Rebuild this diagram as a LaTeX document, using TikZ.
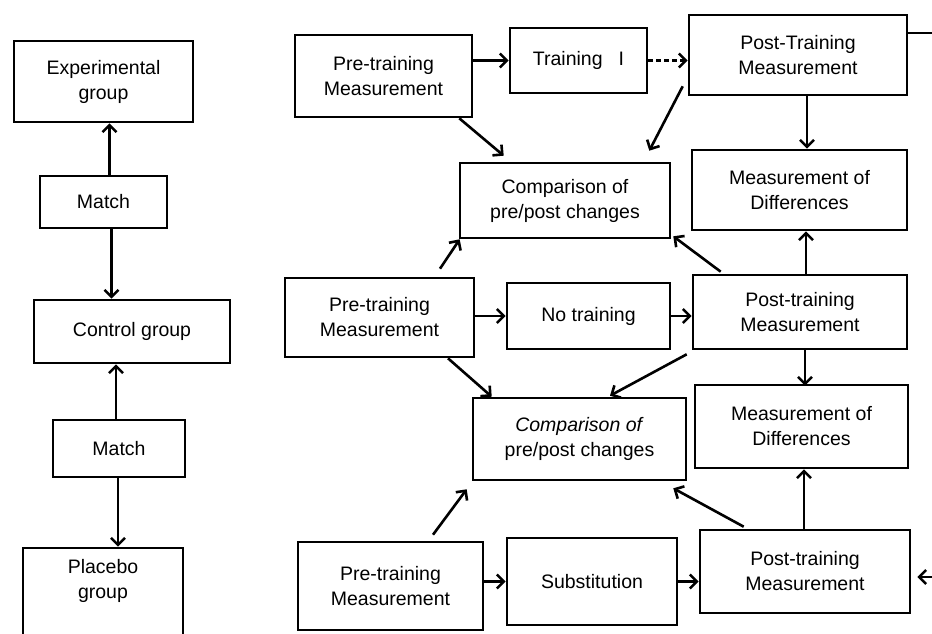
\documentclass[tikz,border=0pt]{standalone}
\usepackage{fontspec}
\setmainfont{Liberation Sans}
\usetikzlibrary{arrows.meta}
\begin{document}
\begin{tikzpicture}[x=1pt,y=-1pt,
  box/.style={draw, line width=2.6pt, align=center, inner sep=0pt, font=\fontsize{19.5}{25}\selectfont},
  sz/.style 2 args={minimum width=#1pt, minimum height=#2pt},
  arr/.style={line width=2.6pt, -{Straight Barb[length=7pt,width=14pt,line width=2.6pt]}},
  ln/.style={line width=2.6pt}]
\useasboundingbox (0,0) rectangle (932,634);
\clip (0,0) rectangle (932,634);
% left column
\node[box, sz={179}{81}] (exp) at (103.5,81.5) {Experimental\\group};
\node[box, sz={127}{52}] (m1) at (103.5,202) {Match};
\node[box, sz={196}{63}] (ctrl) at (132,331.5) {Control group};
\node[box, sz={132}{57}] (m2) at (119,448.5) {Match};
\node[box, sz={160}{92}, text depth=30pt] (plac) at (103,594) {Placebo\\group};
% right part row 1
\node[box, sz={177}{82}] (preA) at (383.5,76) {Pre-training\\Measurement};
\node[box, sz={137}{65}] (trA) at (578.5,60.5) {Training\hspace{16pt}I};
\node[box, sz={218}{80}] (postA) at (798,55) {Post-Training\\Measurement};
\node[box, sz={215}{80}] (diffA) at (799.5,190) {Measurement of\\Differences};
\node[box, sz={210}{75}] (compA) at (565,200.5) {Comparison of\\pre/post changes};
% row 2
\node[box, sz={189}{79}] (preB) at (379.5,317.5) {Pre-training\\Measurement};
\node[box, sz={163}{66}] (noT) at (588.5,316) {No training};
\node[box, sz={214}{74}] (postB) at (800,312) {Post-training\\Measurement};
\node[box, sz={213}{83}] (diffB) at (801.5,426.5) {Measurement of\\Differences};
\node[box, sz={213}{82}] (compB) at (579.5,439) {\textit{Comparison of}\\pre/post changes};
% row 3
\node[box, sz={185}{88}] (preC) at (390.5,586) {Pre-training\\Measurement};
\node[box, sz={170}{87}] (sub) at (592,581.5) {Substitution};
\node[box, sz={210}{83}] (postC) at (805,571.5) {Post-training\\Measurement};
\coordinate (offA) at (936,33);
\coordinate (offC) at (936,577);
% left connectors
\draw[arr] ([xshift=6pt]m1.north) -- ([xshift=6pt]m1.north |- exp.south);
\draw[arr] ([xshift=8pt]m1.south) -- ([xshift=8pt]m1.south |- ctrl.north);
\draw[arr] ([xshift=-3pt]m2.north) -- ([xshift=-3pt]m2.north |- ctrl.south);
\draw[arr] ([xshift=-1pt]m2.south) -- ([xshift=-1pt]m2.south |- plac.north);
% row 1 connectors
\draw[arr] (preA.east |- trA.center) -- (trA.west);
\draw[arr, dash pattern=on 5pt off 3pt] (trA.east) -- (trA.east -| postA.west);
\draw[ln] (offA -| postA.east) -- (offA);
\draw[arr] ([xshift=9pt]postA.south) -- ([xshift=9pt]postA.south |- diffA.north);
\draw[arr] ([xshift=-14pt]preA.south east) -- ([xshift=45pt,yshift=6pt]compA.north west);
\draw[arr] ([xshift=-5pt,yshift=10pt]postA.south west) -- ([xshift=-22pt,yshift=11pt]compA.north east);
% row 2 connectors
\draw[arr] ([xshift=60.5pt,yshift=8pt]preB.north) -- ([xshift=1pt]compA.south west);
\draw[arr] ([xshift=29pt,yshift=2pt]postB.north west) -- ([xshift=2pt,yshift=3pt]compA.south east);
\draw[arr] ([xshift=6pt]postB.north) -- ([xshift=6pt]postB.north |- diffA.south);
\draw[arr] (preB.east |- noT.center) -- (noT.west);
\draw[arr] (noT.east) -- (noT.east -| postB.west);
\draw[arr] ([xshift=5pt]postB.south) -- ([xshift=5pt,yshift=-2pt]postB.south |- diffB.north);
\draw[arr] ([xshift=68.5pt]preB.south) -- ([xshift=20pt]compB.north west);
\draw[arr] ([xshift=-5pt,yshift=-4pt]postB.south west) -- ([xshift=30.5pt,yshift=1pt]compB.north);
% row 3 connectors
\draw[arr] ([xshift=42.5pt,yshift=6pt]preC.north) -- ([xshift=-5pt,yshift=-8pt]compB.south west);
\draw[arr] ([xshift=45pt,yshift=2pt]postC.north west) -- ([xshift=-14pt,yshift=-7pt]compB.south east);
\draw[arr] ([xshift=-1pt]postC.north) -- ([xshift=-1pt]postC.north |- diffB.south);
\draw[arr] (preC.east |- sub.center) -- (sub.west);
\draw[arr] (sub.east) -- (sub.east -| postC.west);
\draw[arr] (offC) -- ([xshift=6pt]offC -| postC.east);
\end{tikzpicture}
\end{document}
